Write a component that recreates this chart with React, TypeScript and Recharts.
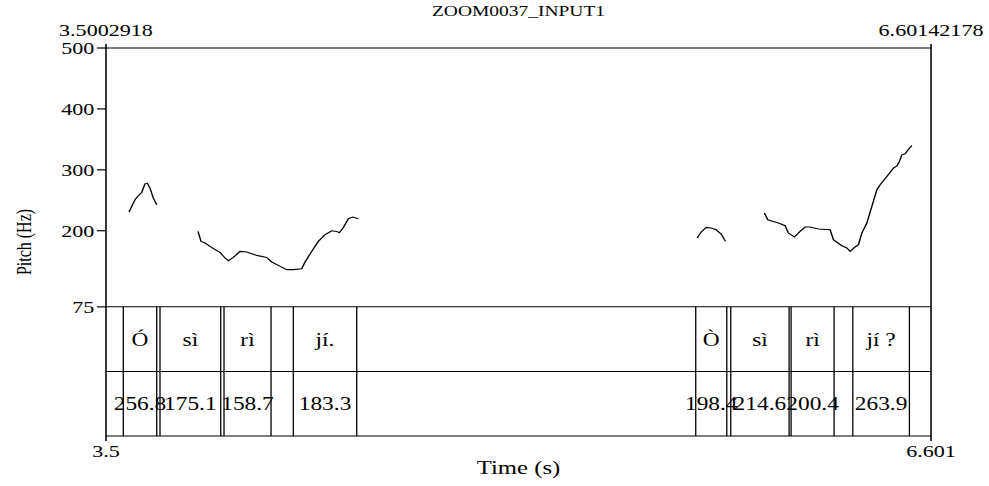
import { LineChart, Line, XAxis, YAxis, ReferenceLine, ReferenceArea, Label } from 'recharts';

// time window of the zoom (s)
const T_START = 3.5002918;
const T_END = 6.60142178;

// pitch axis (Hz); the text tiers sit below 75 Hz on the same scale
const PITCH_TICKS = [75, 200, 300, 400, 500];
const PITCH_MIN = 75;
const PITCH_MAX = 500;
const TIER_SPAN = 106;
const TIER_MID = PITCH_MIN - TIER_SPAN;
const TIER_BOTTOM = PITCH_MIN - 2 * TIER_SPAN;

// pitch contour pieces
const seg1Time = [3.5867, 3.5969, 3.6093, 3.6217, 3.6345, 3.6469, 3.6555, 3.6657, 3.6781, 3.6909];
const seg1Hz = [230.7, 239.8, 250.8, 257.4, 262.8, 277, 278.2, 270, 253.6, 242.6];

const seg2Time = [
  3.8462, 3.8574, 3.8725, 3.8913, 3.9101, 3.9289, 3.9477, 3.9601, 3.9789, 4.0041, 4.0292, 4.0668, 4.1044, 4.1232,
  4.148, 4.1796, 4.2044, 4.236, 4.2484, 4.2736, 4.2984, 4.3236, 4.3488, 4.3676, 4.3774, 4.3924, 4.4112, 4.4277, 4.4488,
];
const seg2Hz = [
  198.9, 182.5, 179.8, 174.3, 168.9, 164.4, 155.2, 150.8, 156.2, 166.1, 165.1, 159.5, 156.2, 148.7, 143.1, 136.1, 136.1,
  137.7, 148.7, 166.1, 182.5, 193.4, 200, 198.9, 196.7, 205.4, 219.7, 222.5, 219.7,
];

const seg3Time = [5.7224, 5.7374, 5.7562, 5.775, 5.7938, 5.8126, 5.8288];
const seg3Hz = [188, 197.9, 205.4, 204.4, 201.6, 194.6, 182.5];

const seg4Time = [
  5.9751, 5.9878, 6.0089, 6.0277, 6.0529, 6.0653, 6.0878, 6.1093, 6.1281, 6.1469, 6.1781, 6.2221, 6.2345, 6.2661,
  6.2849, 6.2973, 6.3161, 6.3285, 6.3413, 6.3601, 6.379, 6.3977, 6.4101, 6.4353, 6.4601, 6.4729, 6.4827, 6.4917,
  6.5041, 6.5165, 6.5292,
];
const seg4Hz = [
  229, 218, 215.2, 212.6, 208.2, 196.2, 189.7, 198.9, 206.1, 206.1, 202.8, 201.6, 185.2, 175.4, 171.6, 166.1, 173.3,
  177, 196.2, 212.6, 239.8, 267.2, 275.4, 289, 302.8, 306.6, 313.6, 324.6, 326.2, 333.9, 339.8,
];

// textgrid
const boundaries = [
  3.5653, 3.6909, 3.7033, 3.9315, 3.9439, 4.1206, 4.2044, 4.4428, 5.717, 5.8337, 5.8487, 6.0679, 6.0754, 6.237, 6.3074,
  6.5201,
];
const syllables = ['Ó', 'sì', 'rì', 'jí.', 'Ò', 'sì', 'rì', 'jí ?'];
const syllableStart = [3.5653, 3.7033, 3.9439, 4.2044, 5.717, 5.8487, 6.0754, 6.3074];
const syllableEnd = [3.6909, 3.9315, 4.1206, 4.4428, 5.8337, 6.0679, 6.237, 6.5201];
const meanPitch = ['256.8', '175.1', '158.7', '183.3', '198.4', '214.6', '200.4', '263.9'];

const toPoints = (ts: number[], hz: number[]) => ts.map((t, i) => ({ t, hz: hz[i] }));
const segments = [toPoints(seg1Time, seg1Hz), toPoints(seg2Time, seg2Hz), toPoints(seg3Time, seg3Hz), toPoints(seg4Time, seg4Hz)];

const W = 761;
const STRETCH = 989 / W;
const FONT = 17;
const TIER_FONT = 18;
const SERIF = '"Liberation Serif", "Times New Roman", Times, serif';
const line = { stroke: '#000', strokeWidth: 1.2 };
const tickText = { fill: '#000', fontSize: FONT, fontFamily: SERIF };

export default function App() {
  return (
    <div
      style={{
        position: 'absolute',
        left: 0,
        top: 0,
        width: 989,
        height: 486,
        overflow: 'hidden',
        background: '#fff',
        fontFamily: SERIF,
      }}
    >
      <div style={{ width: W, height: 486, transform: `scaleX(${STRETCH})`, transformOrigin: '0 0' }}>
        <LineChart width={W} height={486} margin={{ top: 18, right: 0, bottom: 10, left: 0 }} style={{ fontFamily: SERIF }}>
          <XAxis
            dataKey='t'
            type='number'
            domain={[T_START, T_END]}
            ticks={[T_START, T_END]}
            tickFormatter={(v: number) => String(Number(v.toFixed(3)))}
            interval={0}
            height={40}
            axisLine={line}
            tickLine={line}
            tickSize={5}
            tickMargin={4}
            tick={tickText}
            allowDataOverflow
          >
            <Label value='Time (s)' position='insideBottom' offset={2} fill='#000' fontSize={19} fontFamily={SERIF} />
          </XAxis>
          <XAxis
            xAxisId='top'
            orientation='top'
            dataKey='t'
            type='number'
            domain={[T_START, T_END]}
            ticks={[T_START, T_END]}
            tickFormatter={(v: number) => String(v)}
            interval={0}
            height={30}
            axisLine={line}
            tickLine={line}
            tickSize={4}
            tickMargin={8}
            tick={tickText}
            allowDataOverflow
          >
            <Label value='ZOOM0037_INPUT1' position='top' offset={2} fill='#000' fontSize={15} fontFamily={SERIF} />
          </XAxis>
          <YAxis
            type='number'
            domain={[TIER_BOTTOM, PITCH_MAX]}
            ticks={PITCH_TICKS}
            interval={0}
            width={81.56}
            axisLine={line}
            tickLine={line}
            tickSize={7}
            tickMargin={2}
            tick={tickText}
            allowDataOverflow
          >
            <Label
              value='Pitch (Hz)'
              angle={-90}
              position='insideLeft'
              offset={18.5}
              fill='#000'
              fontSize={16}
              fontFamily={SERIF}
              style={{ textAnchor: 'middle' }}
            />
          </YAxis>
          <YAxis
            yAxisId='right'
            orientation='right'
            type='number'
            domain={[TIER_BOTTOM, PITCH_MAX]}
            width={44.6}
            tick={false}
            tickLine={false}
            axisLine={line}
            allowDataOverflow
          />

          <ReferenceLine y={PITCH_MIN} stroke='#000' strokeWidth={1} />
          <ReferenceLine y={TIER_MID} stroke='#000' strokeWidth={1} />
          {boundaries.map((b, i) => (
            <ReferenceLine
              key={'b' + i}
              segment={[
                { x: b, y: PITCH_MIN },
                { x: b, y: TIER_BOTTOM },
              ]}
              stroke='#000'
              strokeWidth={1}
            />
          ))}
          {syllables.map((s, i) => (
            <ReferenceArea
              key={'s' + i}
              x1={syllableStart[i]}
              x2={syllableEnd[i]}
              y1={PITCH_MIN}
              y2={TIER_MID}
              fill='none'
              stroke='none'
              label={{ value: s, position: 'center', fill: '#000', fontSize: TIER_FONT, fontFamily: SERIF }}
            />
          ))}
          {meanPitch.map((m, i) => (
            <ReferenceArea
              key={'m' + i}
              x1={syllableStart[i]}
              x2={syllableEnd[i]}
              y1={TIER_MID}
              y2={TIER_BOTTOM}
              fill='none'
              stroke='none'
              label={{ value: m, position: 'center', fill: '#000', fontSize: TIER_FONT, fontFamily: SERIF }}
            />
          ))}

          {segments.map((seg, i) => (
            <Line
              key={'p' + i}
              data={seg}
              dataKey='hz'
              type='linear'
              stroke='#000'
              strokeWidth={1.1}
              dot={false}
              activeDot={false}
              isAnimationActive={false}
            />
          ))}
        </LineChart>
      </div>
    </div>
  );
}
